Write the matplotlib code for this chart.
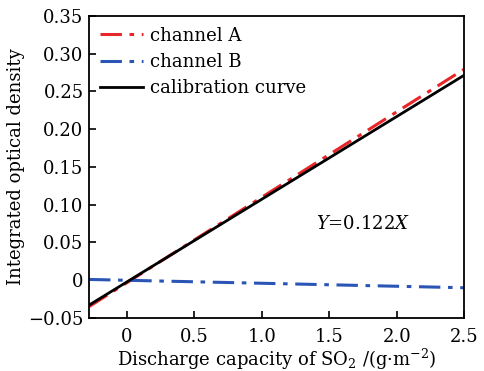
import numpy as np
import matplotlib
matplotlib.use("Agg")
import matplotlib.pyplot as plt

# datos (rectas, extremos)
x = [-0.28, 2.5]
canal_a = [-0.035, 0.2795]
canal_b = [0.001, -0.010]
calibracion = [-0.033, 0.2715]

plt.rcParams['font.family'] = ['DejaVu Serif']
plt.rcParams['mathtext.fontset'] = 'dejavuserif'

fig = plt.figure(figsize=(4.84, 3.71), dpi=100)
ax = fig.add_axes([0.184, 0.143, 0.775, 0.814])

ax.plot(x, canal_a, color='#e8262a', lw=2.2, dashes=(7, 2.5, 1.5, 2.5), label='channel A')
ax.plot(x, canal_b, color='#2b55b5', lw=2.2, dashes=(7, 2.5, 1.5, 2.5), label='channel B')
ax.plot(x, calibracion, color='black', lw=2.0, label='calibration curve')

ax.set_xlim(-0.28, 2.5)
ax.set_ylim(-0.05, 0.35)
ax.set_xticks(np.arange(0, 2.51, 0.5))
ax.set_xticklabels(['0', '0.5', '1.0', '1.5', '2.0', '2.5'])
ax.set_yticks(np.arange(-0.05, 0.351, 0.05))
ax.set_yticklabels(['\u22120.05', '0', '0.05', '0.10', '0.15', '0.20', '0.25', '0.30', '0.35'])
ax.tick_params(direction='in', labelsize=13, length=5, width=1.2)
ax.tick_params(axis='x', pad=7)
ax.tick_params(axis='y', pad=4)
for s in ax.spines.values():
    s.set_linewidth(1.3)

ax.text(1.75, 0.075, '$Y$=0.122$X$', fontsize=13, ha='center', va='center')

ax.set_xlabel('Discharge capacity of SO$_2$ /(g\u00b7m$^{-2}$)', fontsize=13, labelpad=1)
ax.set_ylabel('Integrated optical density', fontsize=13, labelpad=2)

ax.legend(loc='upper left', frameon=False, fontsize=13, handlelength=2.4,
          borderaxespad=0.3, borderpad=0.3, labelspacing=0.45, handletextpad=0.35)

fig.savefig('out.png', dpi=100)
